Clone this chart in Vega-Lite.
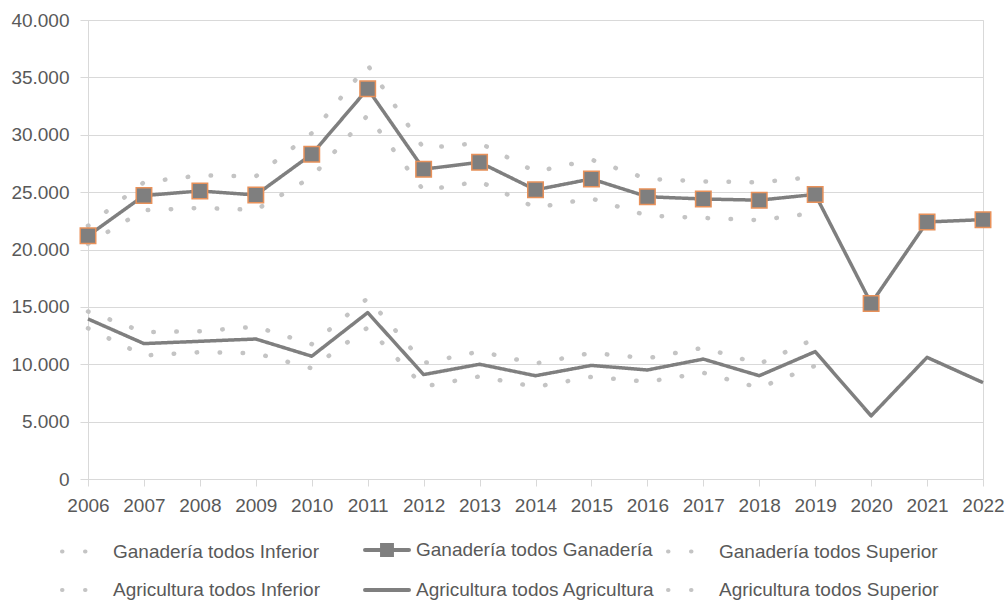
{
  "$schema": "https://vega.github.io/schema/vega-lite/v6.json",
  "width": 895,
  "height": 459,
  "autosize": "none",
  "padding": {"left": 88, "top": 20, "right": 23, "bottom": 122},
  "background": "white",
  "config": {
    "locale": {"number": {"decimal": ",", "thousands": ".", "grouping": [3], "currency": ["", " €"]}},
    "font": "Liberation Sans",
    "view": {"stroke": "#d9d9d9", "strokeWidth": 1},
    "axis": {"labelFont": "Liberation Sans", "labelFontSize": 19, "labelColor": "#595959", "gridColor": "#d9d9d9", "domainColor": "#d9d9d9", "tickColor": "#d9d9d9", "title": null}
  },
  "datasets": {
    "main": [
      {"year": 2006, "series": "Ganadería todos Inferior", "value": 20500},
      {"year": 2007, "series": "Ganadería todos Inferior", "value": 23420},
      {"year": 2008, "series": "Ganadería todos Inferior", "value": 23620},
      {"year": 2009, "series": "Ganadería todos Inferior", "value": 23450},
      {"year": 2010, "series": "Ganadería todos Inferior", "value": 26320},
      {"year": 2011, "series": "Ganadería todos Inferior", "value": 31700},
      {"year": 2012, "series": "Ganadería todos Inferior", "value": 25150},
      {"year": 2013, "series": "Ganadería todos Inferior", "value": 25940},
      {"year": 2014, "series": "Ganadería todos Inferior", "value": 23650},
      {"year": 2015, "series": "Ganadería todos Inferior", "value": 24450},
      {"year": 2016, "series": "Ganadería todos Inferior", "value": 22950},
      {"year": 2017, "series": "Ganadería todos Inferior", "value": 22750},
      {"year": 2018, "series": "Ganadería todos Inferior", "value": 22550},
      {"year": 2019, "series": "Ganadería todos Inferior", "value": 23200},
      {"year": 2006, "series": "Ganadería todos Superior", "value": 22060},
      {"year": 2007, "series": "Ganadería todos Superior", "value": 25860},
      {"year": 2008, "series": "Ganadería todos Superior", "value": 26460},
      {"year": 2009, "series": "Ganadería todos Superior", "value": 26380},
      {"year": 2010, "series": "Ganadería todos Superior", "value": 30130},
      {"year": 2011, "series": "Ganadería todos Superior", "value": 36070},
      {"year": 2012, "series": "Ganadería todos Superior", "value": 28820},
      {"year": 2013, "series": "Ganadería todos Superior", "value": 29290},
      {"year": 2014, "series": "Ganadería todos Superior", "value": 26770},
      {"year": 2015, "series": "Ganadería todos Superior", "value": 27830},
      {"year": 2016, "series": "Ganadería todos Superior", "value": 26150},
      {"year": 2017, "series": "Ganadería todos Superior", "value": 25940},
      {"year": 2018, "series": "Ganadería todos Superior", "value": 25850},
      {"year": 2019, "series": "Ganadería todos Superior", "value": 26330},
      {"year": 2006, "series": "Agricultura todos Inferior", "value": 13130},
      {"year": 2007, "series": "Agricultura todos Inferior", "value": 10760},
      {"year": 2008, "series": "Agricultura todos Inferior", "value": 11050},
      {"year": 2009, "series": "Agricultura todos Inferior", "value": 10960},
      {"year": 2010, "series": "Agricultura todos Inferior", "value": 9650},
      {"year": 2011, "series": "Agricultura todos Inferior", "value": 13200},
      {"year": 2012, "series": "Agricultura todos Inferior", "value": 8060},
      {"year": 2013, "series": "Agricultura todos Inferior", "value": 8940},
      {"year": 2014, "series": "Agricultura todos Inferior", "value": 8030},
      {"year": 2015, "series": "Agricultura todos Inferior", "value": 8900},
      {"year": 2016, "series": "Agricultura todos Inferior", "value": 8470},
      {"year": 2017, "series": "Agricultura todos Inferior", "value": 9260},
      {"year": 2018, "series": "Agricultura todos Inferior", "value": 7950},
      {"year": 2019, "series": "Agricultura todos Inferior", "value": 9870},
      {"year": 2006, "series": "Agricultura todos Superior", "value": 14600},
      {"year": 2007, "series": "Agricultura todos Superior", "value": 12800},
      {"year": 2008, "series": "Agricultura todos Superior", "value": 12880},
      {"year": 2009, "series": "Agricultura todos Superior", "value": 13270},
      {"year": 2010, "series": "Agricultura todos Superior", "value": 11750},
      {"year": 2011, "series": "Agricultura todos Superior", "value": 15750},
      {"year": 2012, "series": "Agricultura todos Superior", "value": 10100},
      {"year": 2013, "series": "Agricultura todos Superior", "value": 11110},
      {"year": 2014, "series": "Agricultura todos Superior", "value": 10060},
      {"year": 2015, "series": "Agricultura todos Superior", "value": 10990},
      {"year": 2016, "series": "Agricultura todos Superior", "value": 10520},
      {"year": 2017, "series": "Agricultura todos Superior", "value": 11440},
      {"year": 2018, "series": "Agricultura todos Superior", "value": 10030},
      {"year": 2019, "series": "Agricultura todos Superior", "value": 12230},
      {"year": 2006, "series": "Ganadería todos Ganadería", "value": 21200},
      {"year": 2007, "series": "Ganadería todos Ganadería", "value": 24700},
      {"year": 2008, "series": "Ganadería todos Ganadería", "value": 25100},
      {"year": 2009, "series": "Ganadería todos Ganadería", "value": 24750},
      {"year": 2010, "series": "Ganadería todos Ganadería", "value": 28300},
      {"year": 2011, "series": "Ganadería todos Ganadería", "value": 34000},
      {"year": 2012, "series": "Ganadería todos Ganadería", "value": 27000},
      {"year": 2013, "series": "Ganadería todos Ganadería", "value": 27600},
      {"year": 2014, "series": "Ganadería todos Ganadería", "value": 25200},
      {"year": 2015, "series": "Ganadería todos Ganadería", "value": 26150},
      {"year": 2016, "series": "Ganadería todos Ganadería", "value": 24600},
      {"year": 2017, "series": "Ganadería todos Ganadería", "value": 24400},
      {"year": 2018, "series": "Ganadería todos Ganadería", "value": 24300},
      {"year": 2019, "series": "Ganadería todos Ganadería", "value": 24800},
      {"year": 2020, "series": "Ganadería todos Ganadería", "value": 15300},
      {"year": 2021, "series": "Ganadería todos Ganadería", "value": 22400},
      {"year": 2022, "series": "Ganadería todos Ganadería", "value": 22600},
      {"year": 2006, "series": "Agricultura todos Agricultura", "value": 13950},
      {"year": 2007, "series": "Agricultura todos Agricultura", "value": 11800},
      {"year": 2008, "series": "Agricultura todos Agricultura", "value": 12000},
      {"year": 2009, "series": "Agricultura todos Agricultura", "value": 12200},
      {"year": 2010, "series": "Agricultura todos Agricultura", "value": 10700},
      {"year": 2011, "series": "Agricultura todos Agricultura", "value": 14500},
      {"year": 2012, "series": "Agricultura todos Agricultura", "value": 9100},
      {"year": 2013, "series": "Agricultura todos Agricultura", "value": 10000},
      {"year": 2014, "series": "Agricultura todos Agricultura", "value": 9000},
      {"year": 2015, "series": "Agricultura todos Agricultura", "value": 9900},
      {"year": 2016, "series": "Agricultura todos Agricultura", "value": 9500},
      {"year": 2017, "series": "Agricultura todos Agricultura", "value": 10450},
      {"year": 2018, "series": "Agricultura todos Agricultura", "value": 9000},
      {"year": 2019, "series": "Agricultura todos Agricultura", "value": 11100},
      {"year": 2020, "series": "Agricultura todos Agricultura", "value": 5500},
      {"year": 2021, "series": "Agricultura todos Agricultura", "value": 10600},
      {"year": 2022, "series": "Agricultura todos Agricultura", "value": 8400}
    ]
  },
  "data": {"name": "main"},
  "encoding": {
    "x": {"field": "year", "type": "ordinal", "scale": {"type": "point", "padding": 0}, "axis": {"labelAngle": 0, "tickSize": 7, "labelPadding": 10, "grid": false, "title": null}},
    "y": {"field": "value", "type": "quantitative", "scale": {"domain": [0, 40000]}, "axis": {"values": [0, 5000, 10000, 15000, 20000, 25000, 30000, 35000, 40000], "format": ",.0f", "tickSize": 8, "labelPadding": 11, "title": null, "grid": true}}
  },
  "layer": [
    {
      "transform": [{"filter": "indexof(datum.series, 'Inferior') >= 0 || indexof(datum.series, 'Superior') >= 0"}],
      "mark": {"type": "line", "strokeCap": "round", "strokeJoin": "round", "strokeWidth": 4.5},
      "encoding": {
        "color": {
          "field": "series", "type": "nominal",
          "scale": {
            "domain": ["Ganadería todos Inferior", "Ganadería todos Ganadería", "Ganadería todos Superior", "Agricultura todos Inferior", "Agricultura todos Agricultura", "Agricultura todos Superior"],
            "range": ["#c4c4c4", "#7f7f7f", "#c4c4c4", "#c4c4c4", "#7f7f7f", "#c4c4c4"]
          },
          "legend": {
            "orient": "none", "legendX": -17, "legendY": 517,
            "direction": "horizontal", "columns": 3, "gridAlign": "all",
            "columnPadding": 5, "rowPadding": 14, "padding": 0,
            "symbolType": "M-2,0H2", "symbolSize": 484, "symbolStrokeWidth": 4,
            "labelFont": "Liberation Sans", "labelFontSize": 19, "labelColor": "#595959", "labelOffset": 16, "labelLimit": 400,
            "title": null,
            "encode": {
              "symbols": {
                "update": {
                  "shape": {"signal": "datum.value === 'Ganadería todos Ganadería' ? 'M-2,0H2M-0.45,-0.45H0.45V0.45H-0.45Z' : 'M-2,0H2'"},
                  "fill": {"signal": "datum.value === 'Ganadería todos Ganadería' ? '#7f7f7f' : 'transparent'"},
                  "strokeCap": {"value": "round"}
                }
              }
            }
          }
        },
        "strokeDash": {
          "field": "series", "type": "nominal",
          "scale": {
            "domain": ["Ganadería todos Inferior", "Ganadería todos Ganadería", "Ganadería todos Superior", "Agricultura todos Inferior", "Agricultura todos Agricultura", "Agricultura todos Superior"],
            "range": [[0.5, 22.5], [1, 0], [0.5, 22.5], [0.5, 22.5], [1, 0], [0.5, 22.5]]
          }
        }
      }
    },
    {
      "transform": [{"filter": "indexof(datum.series, 'Inferior') < 0 && indexof(datum.series, 'Superior') < 0"}],
      "mark": {"type": "line", "strokeCap": "butt", "strokeJoin": "round", "strokeWidth": 3.5},
      "encoding": {
        "color": {"field": "series", "type": "nominal"},
        "strokeDash": {"field": "series", "type": "nominal"}
      }
    },
    {
      "transform": [{"filter": "datum.series === 'Ganadería todos Ganadería'"}],
      "mark": {"type": "point", "shape": "square", "filled": true, "size": 240, "fill": "#7f7f7f", "stroke": "#e8915a", "strokeWidth": 1.5, "opacity": 1}
    }
  ]
}
